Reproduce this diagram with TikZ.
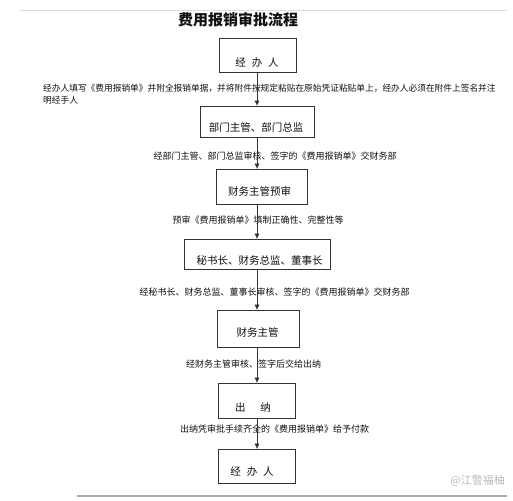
\documentclass[tikz,border=0pt]{standalone}
\usepackage{fontspec}
\setmainfont{Noto Sans CJK SC}
\usetikzlibrary{arrows.meta}
\definecolor{ink}{HTML}{111111}
\definecolor{frame}{HTML}{333333}
\definecolor{rulegray}{HTML}{DDDDDD}
\definecolor{botgray}{HTML}{AAAAAA}
\definecolor{wmgray}{HTML}{BBBBBB}
\tikzset{
  stepbox/.style={draw=frame, line width=0.8pt, inner sep=0pt, fill=none},
  boxtxt/.style={font=\fontsize{10.5pt}{12pt}\selectfont, text=ink, inner sep=0pt},
  lbl/.style={font=\fontsize{9pt}{10.5pt}\selectfont, text=ink, inner sep=0pt},
  arr/.style={draw=frame, line width=0.7pt, -{Triangle[length=5pt,width=4.5pt]}},
}
\begin{document}
\begin{tikzpicture}[x=1pt,y=-1pt]
\useasboundingbox[fill=white] (0,0) rectangle (513,500);
% rules
\draw[rulegray, line width=0.8pt] (20,10) -- (507,10);
\draw[botgray, line width=1.8pt] (77,496) -- (507,496);
% title
\node[font=\fontsize{15pt}{17pt}\selectfont\bfseries, text=ink, inner sep=0pt] (title) at (238,20) {费用报销审批流程};
% boxes
\node[stepbox, minimum width=77pt, minimum height=34pt] (b1) at (257.5,55) {};
\node[stepbox, minimum width=114pt, minimum height=31pt] (b2) at (257,121.5) {};
\node[stepbox, minimum width=91pt, minimum height=35pt] (b3) at (261.5,186.5) {};
\node[stepbox, minimum width=146pt, minimum height=30pt] (b4) at (257,254) {};
\node[stepbox, minimum width=82pt, minimum height=37pt] (b5) at (258,328.5) {};
\node[stepbox, minimum width=77pt, minimum height=35pt] (b6) at (256.5,400.5) {};
\node[stepbox, minimum width=77pt, minimum height=34pt] (b7) at (256.5,466) {};
% box texts
\node[boxtxt] (t1) at (257,63) {经\hspace{0.55em}办\hspace{0.55em}人};
\node[boxtxt] (t2) at (256,127) {部门主管、部门总监};
\node[boxtxt] (t3) at (259.5,191) {财务主管预审};
\node[boxtxt] (t4) at (259.5,261) {秘书长、财务总监、董事长};
\node[boxtxt] (t5) at (257.5,332) {财务主管};
\node[boxtxt] (t6) at (253,407) {出\hspace{1.4em}纳};
\node[boxtxt] (t7) at (252,472) {经\hspace{0.55em}办\hspace{0.55em}人};
% labels
\node[lbl, font=\fontsize{8.7pt}{10.5pt}\selectfont, anchor=west] (l1a) at (43,88) {经办人填写《费用报销单》并附全报销单据，并将附件按规定粘贴在原始凭证粘贴单上，经办人必须在附件上签名并注};
\node[lbl, font=\fontsize{8.7pt}{10.5pt}\selectfont, anchor=west] (l1b) at (43,100) {明经手人};
\node[lbl] (l2) at (275,156) {经部门主管、部门总监审核、签字的《费用报销单》交财务部};
\node[lbl] (l3) at (258,220) {预审《费用报销单》填制正确性、完整性等};
\node[lbl] (l4) at (274.5,292) {经秘书长、财务总监、董事长审核、签字的《费用报销单》交财务部};
\node[lbl] (l5) at (253.5,364) {经财务主管审核、签字后交给出纳};
\node[lbl] (l6) at (274.5,429) {出纳凭审批手续齐全的《费用报销单》给予付款};
% watermark
\node[font=\fontsize{11pt}{13pt}\selectfont, text=wmgray, inner sep=0pt, anchor=east] (wm) at (505,481) {@江警福柚};
% arrows
\coordinate (ax) at (257,0);
\draw[arr] (b1.south -| ax) -- (b2.north -| ax);
\draw[arr] (b2.south -| ax) -- (b3.north -| ax);
\draw[arr] (b3.south -| ax) -- (b4.north -| ax);
\draw[arr] (b4.south -| ax) -- (b5.north -| ax);
\draw[arr] (b5.south -| ax) -- (b6.north -| ax);
\draw[arr] (b6.south -| ax) -- (b7.north -| ax);
\end{tikzpicture}
\end{document}
